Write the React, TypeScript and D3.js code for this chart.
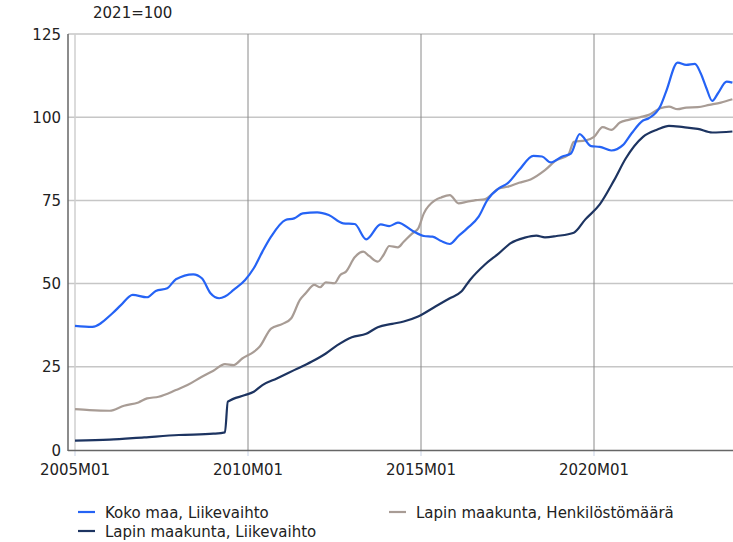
import React from "react";
import * as d3 from "d3";

const yTicks = [0, 25, 50, 75, 100, 125];
const xTickLabels = ["2005M01", "2010M01", "2015M01", "2020M01"];
const unitLabel = "2021=100";

const kokoMonths = ["2005M01","2005M07","2006M02","2006M05","2006M09","2007M02","2007M05","2007M09","2007M12","2008M06","2008M09","2008M12","2009M03","2009M05","2009M08","2009M12","2010M03","2010M06","2010M09","2011M02","2011M05","2011M08","2012M01","2012M05","2012M10","2013M02","2013M06","2013M11","2014M02","2014M05","2014M10","2015M02","2015M05","2015M08","2015M11","2016M02","2016M05","2016M09","2016M12","2017M04","2017M07","2017M11","2018M04","2018M07","2018M10","2019M02","2019M05","2019M08","2019M12","2020M03","2020M07","2020M11","2021M02","2021M06","2021M08","2021M12","2022M02","2022M06","2022M09","2022M12","2023M02","2023M04","2023M06","2023M08","2023M11","2024M01"];
const kokoValues = [37.3,37.0,41.1,43.6,46.6,45.9,47.8,48.6,51.3,52.8,51.6,47.1,45.6,46.1,48.1,51.1,54.6,59.6,64.1,69.1,69.6,71.1,71.4,70.6,68.1,67.9,63.3,67.8,67.3,68.3,65.9,64.3,64.1,62.8,61.9,64.3,66.6,70.1,75.1,78.6,80.1,84.1,88.4,88.2,86.4,88.2,89.1,94.9,91.3,91.1,90.0,91.6,95.1,99.0,99.7,103.3,107.7,116.4,115.7,116.0,113.2,108.7,104.9,107.2,110.7,110.4];

const henkMonths = ["2005M01","2005M06","2006M01","2006M06","2006M11","2007M02","2007M06","2007M12","2008M04","2008M09","2009M01","2009M05","2009M08","2009M11","2010M03","2010M05","2010M09","2011M01","2011M04","2011M07","2011M09","2011M12","2012M02","2012M04","2012M07","2012M09","2012M11","2013M02","2013M05","2013M07","2013M10","2013M12","2014M02","2014M05","2014M07","2014M10","2014M12","2015M02","2015M06","2015M08","2015M11","2016M02","2016M05","2016M08","2016M11","2017M04","2017M07","2017M11","2018M03","2018M08","2018M12","2019M04","2019M06","2019M10","2020M01","2020M04","2020M07","2020M10","2021M01","2021M05","2021M08","2021M12","2022M03","2022M06","2022M09","2023M01","2023M05","2023M09","2024M01"];
const henkValues = [12.3,12.0,11.8,13.3,14.3,15.5,16.0,18.0,19.5,22.0,23.8,25.8,25.5,27.5,29.5,31.0,36.5,37.9,39.6,45.1,47.1,49.6,48.9,50.4,50.1,52.6,53.6,57.9,59.6,58.3,56.6,58.6,61.3,60.9,62.6,65.1,66.5,71.1,75.1,75.9,76.6,74.1,74.6,75.1,75.3,78.6,79.1,80.3,81.3,84.1,87.1,88.6,92.6,93.0,94.1,97.0,96.2,98.4,99.2,100.0,100.7,102.7,103.2,102.4,102.9,103.0,103.7,104.4,105.4];

const lappiMonths = ["2005M01","2006M01","2007M01","2008M01","2009M01","2009M05","2009M06","2009M12","2010M03","2010M06","2010M11","2011M05","2011M11","2012M04","2012M08","2013M01","2013M06","2013M10","2014M03","2014M07","2014M12","2015M06","2015M11","2016M03","2016M06","2016M11","2017M04","2017M08","2018M01","2018M05","2018M08","2018M12","2019M06","2019M10","2020M03","2020M08","2020M12","2021M06","2021M11","2022M03","2022M08","2023M01","2023M06","2024M01"];
const lappiValues = [2.8,3.1,3.8,4.5,4.9,5.3,14.5,16.5,17.5,19.5,21.5,24.0,26.5,29.0,31.5,33.9,34.9,36.9,37.9,38.6,40.1,43.1,45.6,47.6,51.1,55.6,59.1,62.1,63.8,64.4,63.9,64.3,65.3,69.3,73.8,81.1,87.6,94.1,96.3,97.4,97.0,96.5,95.4,95.7];

const seriesNames = ["Koko maa, Liikevaihto", "Lapin maakunta, Henkilöstömäärä", "Lapin maakunta, Liikevaihto"];
const seriesColors = ["#2563f5", "#a89c95", "#1d3461"];

const toIndex = (s: string) => (parseInt(s.slice(0, 4)) - 2005) * 12 + parseInt(s.slice(5)) - 1;

const W = 733, H = 542;
const FONT = "'DejaVu Sans', Verdana, sans-serif";
const FS = 15;

export default function App() {
  const x = d3.scaleLinear().domain([0, 228]).range([75, 732.4]);
  const y = d3.scaleLinear().domain([0, 125]).range([450, 34]);
  const left = 68, right = 733;

  const line = d3.line<[number, number]>()
    .x((d) => x(d[0]))
    .y((d) => y(d[1]))
    .curve(d3.curveMonotoneX);

  const series = [
    { months: kokoMonths, values: kokoValues },
    { months: henkMonths, values: henkValues },
    { months: lappiMonths, values: lappiValues },
  ].map((s, i) => ({
    name: seriesNames[i],
    color: seriesColors[i],
    pts: s.months.map((m, j) => [toIndex(m), s.values[j]] as [number, number]),
  }));

  const drawOrder = [2, 1, 0];

  const legend = [
    { i: 0, x: 78, y: 512 },
    { i: 2, x: 78, y: 531 },
    { i: 1, x: 389, y: 512 },
  ];

  return (
    <div style={{ position: "fixed", left: 0, top: 0 }}>
      <svg width={W} height={H} style={{ display: "block", background: "#fff" }} fontFamily={FONT}>
        <text x={93} y={18} fontSize={FS} fill="#222">{unitLabel}</text>
        {yTicks.filter((t) => t > 0).map((t) => (
          <line key={"h" + t} x1={left} x2={right} y1={y(t)} y2={y(t)} stroke="#c6c6c6" strokeWidth={1.5} />
        ))}
        {xTickLabels.map((l, k) => {
          const xx = x(toIndex(l));
          return (
            <g key={l}>
              <line x1={xx} x2={xx} y1={34} y2={450} stroke={k === 0 ? "#cfcfcf" : "#8a8a8a"} strokeWidth={k === 0 ? 1.5 : 1} />
              <line x1={xx} x2={xx} y1={450} y2={456} stroke="#c9d3e6" strokeWidth={1} />
              <text x={xx} y={475} textAnchor="middle" fontSize={FS} fill="#222">{l}</text>
            </g>
          );
        })}
        <line x1={left} x2={left} y1={34} y2={451} stroke="#666" strokeWidth={1.5} />
        <line x1={left} x2={right} y1={450.5} y2={450.5} stroke="#666" strokeWidth={1.5} />
        {yTicks.map((t) => (
          <text key={"yl" + t} x={61} y={y(t) + 5.5} textAnchor="end" fontSize={FS} fill="#222">{t}</text>
        ))}
        {drawOrder.map((i) => (
          <path key={series[i].name} d={line(series[i].pts) || ""} fill="none" stroke={series[i].color} strokeWidth={2.2} strokeLinejoin="round" />
        ))}
        {legend.map((l) => (
          <g key={"lg" + l.i}>
            <line x1={l.x} x2={l.x + 17} y1={l.y} y2={l.y} stroke={seriesColors[l.i]} strokeWidth={2.2} />
            <text x={l.x + 27} y={l.y + 5.5} fontSize={FS} fill="#222">{seriesNames[l.i]}</text>
          </g>
        ))}
      </svg>
    </div>
  );
}
